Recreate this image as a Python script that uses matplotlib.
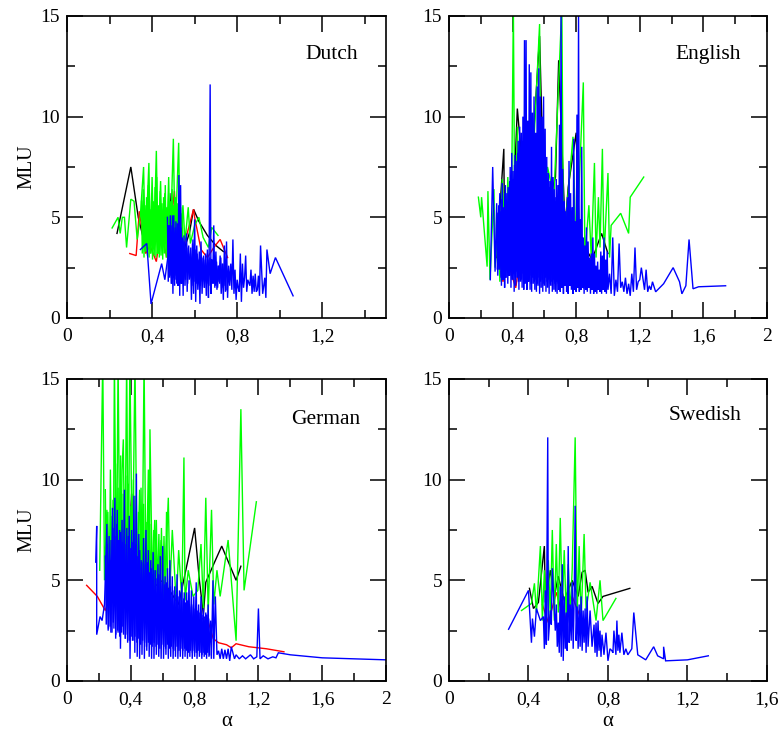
import matplotlib
matplotlib.use('Agg')
import matplotlib.pyplot as plt
from matplotlib.ticker import FixedLocator

plt.rcParams['font.family'] = ['Liberation Serif', 'DejaVu Serif']

# Dutch
dutch_black_x = [0.235, 0.30, 0.335, 0.36, 0.40, 0.42, 0.43, 0.46, 0.475, 0.49, 0.50, 0.52, 0.55, 0.575, 0.595, 0.62, 0.66, 0.70, 0.735]
dutch_black_y = [4.2, 7.5, 5.0, 3.9, 3.8, 6.0, 3.5, 5.9, 3.6, 6.2, 3.8, 5.0, 3.4, 4.2, 5.4, 4.8, 4.1, 3.6, 3.3]
dutch_red_x = [0.295, 0.325, 0.34, 0.36, 0.37, 0.39, 0.42, 0.44, 0.47, 0.49, 0.505, 0.52, 0.55, 0.595, 0.60, 0.63, 0.66, 0.69, 0.72, 0.755]
dutch_red_y = [3.2, 3.1, 5.3, 3.9, 3.2, 3.6, 2.8, 4.4, 3.0, 4.8, 6.3, 3.2, 3.6, 5.4, 5.0, 3.4, 3.0, 3.5, 3.9, 3.0]
dutch_green_x = [0.212, 0.24, 0.25, 0.26, 0.27, 0.28, 0.30, 0.315, 0.33, 0.345, 0.36, 0.368, 0.385, 0.392, 0.40, 0.408, 0.42, 0.428, 0.44, 0.447, 0.46, 0.468, 0.478, 0.485, 0.50, 0.508, 0.525, 0.532, 0.545, 0.555, 0.57, 0.58, 0.60, 0.62, 0.64, 0.665, 0.68, 0.71]
dutch_green_y = [4.47, 5.0, 4.2, 5.0, 5.0, 3.5, 5.9, 5.8, 3.9, 5.1, 7.5, 3.3, 7.7, 3.2, 7.0, 3.4, 8.3, 3.2, 6.8, 3.5, 6.2, 3.3, 7.0, 3.4, 8.9, 3.6, 8.7, 3.5, 5.6, 3.8, 5.5, 3.7, 4.6, 5.0, 4.0, 3.5, 4.5, 4.1]
dutch_green2_x = [0.35, 0.354, 0.358, 0.362, 0.366, 0.37, 0.374, 0.378, 0.382, 0.386,
                  0.39, 0.394, 0.398, 0.402, 0.406, 0.41, 0.414, 0.418, 0.422, 0.426,
                  0.43, 0.434, 0.438, 0.442, 0.446, 0.45, 0.454, 0.458, 0.462, 0.466,
                  0.47, 0.474, 0.478, 0.482, 0.486, 0.49, 0.494, 0.498, 0.502, 0.506,
                  0.51, 0.514, 0.518, 0.522, 0.526, 0.53, 0.534, 0.538, 0.542, 0.546]
dutch_green2_y = [5.8, 3.2, 6.4, 3.0, 5.6, 3.3, 6.0, 3.1, 6.6, 3.0,
                  5.4, 3.2, 6.2, 2.9, 5.8, 3.1, 6.5, 3.0, 7.0, 3.2,
                  5.6, 3.0, 6.3, 3.1, 5.7, 2.9, 6.0, 3.2, 6.6, 3.0,
                  5.5, 3.1, 6.2, 3.0, 5.8, 3.2, 6.4, 3.1, 5.6, 3.3,
                  6.0, 3.2, 5.7, 3.3, 5.9, 3.4, 5.5, 3.3, 5.2, 3.6]
dutch_blue_x = [0.345, 0.375, 0.395, 0.445, 0.46, 0.475, 0.478, 0.482, 0.486, 0.49, 0.494, 0.498, 0.502, 0.506, 0.51, 0.514, 0.518, 0.522, 0.526, 0.53, 0.534, 0.538, 0.542, 0.546, 0.55, 0.555, 0.56, 0.565, 0.57, 0.575, 0.58, 0.585, 0.59, 0.595, 0.60, 0.605, 0.61, 0.615, 0.62, 0.625, 0.63, 0.635, 0.64, 0.645, 0.65, 0.655, 0.66, 0.665, 0.668, 0.673, 0.677, 0.68, 0.685, 0.69, 0.695, 0.70, 0.705, 0.71, 0.715, 0.72, 0.725, 0.73, 0.735, 0.74, 0.745, 0.75, 0.755, 0.76, 0.765, 0.77, 0.775, 0.78, 0.785, 0.79, 0.795, 0.80, 0.805, 0.81, 0.815, 0.82, 0.825, 0.83, 0.835, 0.84, 0.845, 0.85, 0.86, 0.865, 0.87, 0.875, 0.88, 0.885, 0.89, 0.895, 0.90, 0.905, 0.91, 0.92, 0.93, 0.935, 0.94, 0.955, 0.98, 1.063]
dutch_blue_y = [3.4, 3.7, 0.7, 2.7, 1.9, 3.1, 4.6, 2.0, 5.1, 1.7, 4.0, 1.2, 5.1, 1.6, 4.5, 2.1, 4.7, 1.6, 7.1, 1.1, 6.6, 1.7, 4.0, 1.1, 4.1, 1.6, 4.0, 1.3, 3.5, 1.9, 3.2, 0.9, 3.7, 1.2, 4.9, 0.8, 3.6, 1.4, 2.9, 0.7, 3.8, 1.2, 3.0, 1.5, 2.9, 1.1, 3.4, 1.0, 2.6, 11.6, 1.2, 2.9, 1.7, 4.6, 1.5, 3.3, 1.4, 2.6, 1.8, 3.1, 1.2, 2.7, 0.9, 3.6, 1.3, 3.8, 1.0, 2.6, 1.6, 2.7, 1.4, 3.9, 1.2, 2.4, 0.9, 1.9, 1.5, 1.3, 3.2, 0.8, 2.7, 1.5, 2.0, 3.1, 1.3, 1.9, 1.6, 2.4, 1.2, 2.1, 1.3, 2.2, 1.3, 1.4, 2.1, 1.1, 3.6, 1.2, 2.0, 1.0, 3.4, 2.2, 3.0, 1.1]
dutch_blue2_x = [0.472, 0.476, 0.48, 0.484, 0.488, 0.492, 0.496, 0.50, 0.504, 0.508,
                 0.512, 0.516, 0.52, 0.524, 0.528, 0.532, 0.536, 0.54, 0.544, 0.548,
                 0.552, 0.557, 0.562, 0.567, 0.572, 0.577, 0.582, 0.587, 0.592, 0.597,
                 0.602, 0.607, 0.612, 0.617, 0.622, 0.627, 0.632, 0.637, 0.642, 0.647,
                 0.652, 0.657, 0.662, 0.667, 0.672, 0.678, 0.683, 0.688, 0.693, 0.698,
                 0.703, 0.708, 0.713, 0.718, 0.723, 0.728, 0.733, 0.738, 0.743, 0.748]
dutch_blue2_y = [5.0, 1.8, 4.4, 2.1, 4.6, 1.7, 5.1, 2.0, 4.2, 1.9,
                 4.8, 1.7, 4.0, 2.1, 4.3, 1.8, 4.5, 2.0, 3.9, 1.6,
                 3.8, 1.9, 4.2, 1.7, 3.6, 2.0, 3.5, 1.6, 3.9, 1.8,
                 3.4, 1.7, 3.2, 1.9, 3.3, 1.6, 3.0, 1.8, 3.1, 1.5,
                 3.2, 1.7, 2.9, 1.6, 3.0, 1.5, 2.9, 1.7, 3.1, 1.6,
                 2.8, 1.5, 2.6, 1.7, 3.0, 1.5, 2.7, 1.6, 2.9, 1.4]

# English
english_black_x = [0.30, 0.345, 0.35, 0.41, 0.43, 0.50, 0.52, 0.57, 0.60, 0.67, 0.69, 0.73, 0.75, 0.80, 0.82, 0.90, 0.96, 1.0]
english_black_y = [3.0, 8.4, 3.5, 6.5, 10.4, 4.0, 7.5, 14.0, 5.0, 7.0, 12.8, 4.5, 6.5, 9.2, 4.0, 2.9, 4.2, 3.2]
english_red_x = [0.325, 0.34, 0.365, 0.40, 0.42, 0.435, 0.45]
english_red_y = [2.3, 1.8, 3.0, 2.0, 1.5, 2.3, 1.9]
english_green_x = [0.185, 0.20, 0.205, 0.24, 0.245, 0.258, 0.283, 0.29, 0.31, 0.32, 0.335, 0.36, 0.37, 0.39, 0.405, 0.415, 0.43, 0.45, 0.47, 0.50, 0.53, 0.57, 0.58, 0.62, 0.66, 0.71, 0.72, 0.78, 0.80, 0.845, 0.855, 0.88, 0.895, 0.915, 0.925, 0.94, 0.95, 0.965, 0.975, 1.0, 1.01, 1.02, 1.08, 1.13, 1.14, 1.225]
english_green_y = [6.0, 5.0, 6.0, 2.55, 6.3, 1.9, 6.4, 2.5, 4.4, 1.8, 6.9, 2.4, 7.0, 2.5, 15.5, 3.0, 9.5, 3.5, 7.0, 4.0, 8.0, 14.6, 4.0, 7.5, 6.0, 15.5, 3.5, 9.0, 3.0, 11.7, 3.0, 5.6, 3.0, 7.7, 3.0, 6.0, 3.5, 8.4, 3.0, 7.2, 3.0, 4.6, 5.2, 4.2, 6.0, 7.0]
english_blue_x = [0.26, 0.275, 0.29, 0.30, 0.305, 0.31, 0.32, 0.33, 0.335, 0.34, 0.345, 0.35, 0.355, 0.36, 0.365, 0.37, 0.375, 0.38, 0.385, 0.39, 0.395, 0.40, 0.405, 0.41, 0.415, 0.42, 0.425, 0.43, 0.435, 0.44, 0.445, 0.45, 0.455, 0.46, 0.465, 0.47, 0.475, 0.48, 0.485, 0.49, 0.495, 0.50, 0.505, 0.51, 0.515, 0.52, 0.525, 0.53, 0.535, 0.54, 0.545, 0.55, 0.555, 0.56, 0.565, 0.57, 0.575, 0.58, 0.585, 0.59, 0.595, 0.60, 0.605, 0.61, 0.615, 0.62, 0.625, 0.63, 0.635, 0.64, 0.645, 0.65, 0.655, 0.66, 0.665, 0.67, 0.675, 0.68, 0.685, 0.69, 0.695, 0.70, 0.705, 0.71, 0.715, 0.72, 0.725, 0.73, 0.735, 0.74, 0.745, 0.75, 0.755, 0.76, 0.765, 0.77, 0.775, 0.78, 0.785, 0.79, 0.795, 0.80, 0.805, 0.81, 0.815, 0.82, 0.825, 0.83, 0.835, 0.84, 0.845, 0.85, 0.855, 0.86, 0.865, 0.87, 0.875, 0.88, 0.885, 0.89, 0.895, 0.90, 0.905, 0.91, 0.915, 0.92, 0.925, 0.93, 0.935, 0.94, 0.945, 0.95, 0.955, 0.96, 0.965, 0.97, 0.975, 0.98, 0.985, 0.99, 0.995, 1.0, 1.01, 1.02, 1.03, 1.04, 1.05, 1.06, 1.07, 1.08, 1.09, 1.10, 1.11, 1.12, 1.13, 1.14, 1.15, 1.16, 1.17, 1.18, 1.19, 1.20, 1.21, 1.23, 1.24, 1.25, 1.26, 1.27, 1.28, 1.30, 1.35, 1.41, 1.45, 1.465, 1.49, 1.51, 1.535, 1.57, 1.74]
english_blue_y = [1.9, 7.5, 2.3, 5.7, 2.4, 3.5, 6.2, 1.6, 6.7, 1.9, 5.2, 1.5, 6.6, 2.0, 6.2, 1.7, 5.2, 2.1, 7.5, 1.5, 8.2, 1.9, 6.9, 1.3, 8.1, 1.6, 7.2, 2.0, 8.8, 1.4, 9.5, 1.8, 9.2, 1.5, 10.0, 1.4, 13.8, 1.7, 13.8, 1.4, 9.8, 1.8, 12.6, 1.4, 12.2, 1.3, 10.2, 1.7, 11.0, 1.4, 9.2, 1.3, 11.5, 1.6, 12.4, 1.2, 11.0, 1.5, 10.0, 1.3, 11.0, 1.6, 9.4, 1.3, 8.0, 1.5, 7.2, 1.2, 6.8, 1.6, 8.5, 1.3, 7.0, 1.4, 5.8, 1.3, 6.9, 1.2, 6.6, 1.4, 9.6, 1.3, 15.5, 1.5, 7.4, 1.2, 5.8, 1.6, 4.6, 1.3, 6.0, 1.2, 7.8, 1.6, 6.2, 1.4, 5.5, 1.2, 8.9, 1.4, 4.8, 1.3, 10.1, 1.5, 15.0, 1.3, 4.9, 1.4, 8.5, 1.5, 4.0, 1.2, 3.6, 1.4, 4.5, 1.3, 3.8, 1.5, 3.0, 1.2, 3.2, 1.4, 4.0, 1.2, 3.2, 1.3, 2.6, 1.2, 2.8, 1.4, 2.4, 1.3, 3.3, 1.2, 3.1, 1.4, 4.0, 1.3, 2.9, 1.2, 3.3, 1.4, 2.2, 1.2, 4.0, 1.1, 1.9, 1.3, 3.7, 1.5, 1.8, 1.3, 2.0, 1.2, 1.7, 1.1, 2.2, 1.3, 3.5, 1.4, 1.8, 1.9, 2.5, 1.4, 2.4, 1.3, 1.6, 1.4, 1.8, 1.3, 1.7, 2.5, 1.8, 1.2, 1.6, 3.9, 1.45, 1.55, 1.6]
english_blue2_x = [0.302, 0.307, 0.312, 0.317, 0.322, 0.327, 0.332, 0.337, 0.342, 0.347,
                   0.352, 0.357, 0.362, 0.367, 0.372, 0.377, 0.382, 0.387, 0.392, 0.397,
                   0.402, 0.407, 0.412, 0.417, 0.422, 0.427, 0.432, 0.437, 0.442, 0.447,
                   0.452, 0.457, 0.462, 0.467, 0.472, 0.477, 0.482, 0.487, 0.492, 0.497,
                   0.502, 0.507, 0.512, 0.517, 0.522, 0.527, 0.532, 0.537, 0.542, 0.547,
                   0.552, 0.557, 0.562, 0.567, 0.572, 0.577, 0.582, 0.587, 0.592, 0.597,
                   0.602, 0.607, 0.612, 0.617, 0.622, 0.627, 0.632, 0.637, 0.642, 0.647,
                   0.652, 0.657, 0.662, 0.667, 0.672, 0.677, 0.682, 0.687, 0.692, 0.697,
                   0.702, 0.707, 0.712, 0.717, 0.722, 0.727, 0.732, 0.737, 0.742, 0.747,
                   0.752, 0.757, 0.762, 0.767, 0.772, 0.777, 0.782, 0.787, 0.792, 0.797,
                   0.802, 0.807, 0.812, 0.817, 0.822, 0.827, 0.832, 0.837, 0.842, 0.847]
english_blue2_y = [5.2, 2.1, 5.6, 2.4, 5.3, 2.0, 5.9, 2.3, 5.5, 2.2,
                   6.2, 2.0, 5.8, 2.4, 6.5, 2.1, 6.8, 2.3, 7.1, 1.9,
                   7.3, 2.2, 7.6, 2.0, 7.8, 2.3, 8.2, 1.8, 8.0, 2.1,
                   8.5, 1.9, 8.8, 2.2, 9.3, 1.8, 9.0, 2.0, 8.6, 1.9,
                   8.9, 2.1, 8.3, 1.7, 9.0, 2.0, 8.4, 1.8, 8.1, 1.9,
                   8.6, 1.7, 8.0, 2.0, 7.6, 1.8, 8.2, 1.9, 7.4, 1.7,
                   7.2, 2.0, 7.0, 1.8, 6.8, 1.9, 6.5, 1.7, 6.7, 1.8,
                   6.2, 1.9, 6.4, 1.7, 6.0, 1.8, 5.9, 1.7, 6.1, 1.9,
                   5.8, 1.7, 5.6, 1.8, 5.4, 1.7, 5.3, 1.9, 5.5, 1.6,
                   5.0, 1.8, 4.8, 1.7, 4.9, 1.6, 4.5, 1.7, 4.3, 1.6,
                   4.4, 1.8, 4.0, 1.6, 4.2, 1.7, 3.8, 1.6, 3.9, 1.5]

# German
german_black_x = [0.33, 0.38, 0.405, 0.42, 0.45, 0.50, 0.60, 0.70, 0.80, 0.83, 0.855, 0.87, 0.925, 0.97, 1.06, 1.09]
german_black_y = [4.0, 5.2, 9.3, 4.8, 6.0, 4.4, 5.0, 3.8, 7.6, 5.0, 3.3, 4.9, 5.9, 6.7, 5.0, 5.7]
german_red_x = [0.123, 0.19, 0.24, 0.28, 0.31, 0.32, 0.36, 0.42, 0.50, 0.60, 0.70, 0.80, 0.875, 0.917, 0.95, 1.0, 1.03, 1.06, 1.14, 1.25, 1.36]
german_red_y = [4.75, 4.2, 3.5, 4.5, 8.7, 3.0, 5.5, 3.9, 3.4, 3.6, 3.0, 2.9, 3.2, 2.1, 1.9, 1.8, 1.65, 1.85, 1.7, 1.6, 1.45]
german_green_x = [0.205, 0.224, 0.235, 0.25, 0.262, 0.275, 0.29, 0.297, 0.31, 0.32, 0.333, 0.345, 0.353, 0.362, 0.374, 0.384, 0.394, 0.41, 0.426, 0.44, 0.455, 0.47, 0.483, 0.495, 0.51, 0.515, 0.52, 0.535, 0.55, 0.57, 0.59, 0.61, 0.635, 0.645, 0.66, 0.685, 0.70, 0.72, 0.733, 0.74, 0.76, 0.79, 0.82, 0.84, 0.855, 0.87, 0.885, 0.906, 0.92, 0.94, 0.96, 1.01, 1.06, 1.09, 1.11, 1.187]
german_green_y = [5.5, 16.0, 5.0, 8.5, 3.8, 8.2, 4.5, 16.0, 4.3, 16.0, 4.0, 10.5, 12.0, 4.8, 16.0, 4.0, 16.0, 5.0, 16.0, 4.5, 9.5, 4.2, 16.0, 4.5, 10.5, 4.2, 12.5, 4.5, 8.0, 4.0, 7.0, 4.0, 9.1, 4.5, 7.5, 3.8, 6.5, 4.0, 11.1, 4.0, 5.5, 4.2, 4.5, 6.8, 3.6, 9.1, 3.4, 8.5, 3.8, 5.5, 4.2, 7.0, 2.0, 13.5, 4.5, 8.9]
german_green2_x = [0.24, 0.248, 0.256, 0.264, 0.272, 0.28, 0.288, 0.296, 0.304, 0.312,
                   0.32, 0.328, 0.336, 0.344, 0.352, 0.36, 0.368, 0.376, 0.384, 0.392,
                   0.40, 0.408, 0.416, 0.424, 0.432, 0.44, 0.448, 0.456, 0.464, 0.472,
                   0.48, 0.488, 0.496, 0.504, 0.512, 0.52, 0.528, 0.536, 0.544, 0.552,
                   0.56, 0.568, 0.576, 0.584, 0.592, 0.60, 0.608, 0.616, 0.624, 0.632]
german_green2_y = [9.5, 4.0, 8.4, 3.8, 10.5, 4.2, 9.0, 4.0, 10.8, 3.9,
                   9.6, 4.1, 11.2, 4.0, 9.3, 3.8, 10.2, 4.2, 9.8, 4.0,
                   8.7, 3.9, 10.0, 4.1, 9.2, 4.0, 8.4, 3.8, 9.6, 4.2,
                   8.8, 4.0, 7.9, 4.1, 9.0, 3.9, 7.8, 4.2, 7.5, 4.0,
                   8.0, 4.1, 7.3, 4.0, 7.6, 4.2, 7.2, 3.9, 8.4, 4.1]
german_blue_x = [0.18, 0.186, 0.186, 0.207, 0.22, 0.235, 0.25, 0.26, 0.27, 0.275, 0.285, 0.29, 0.30, 0.305, 0.315, 0.32, 0.33, 0.335, 0.345, 0.35, 0.36, 0.365, 0.375, 0.38, 0.39, 0.395, 0.405, 0.41, 0.42, 0.425, 0.435, 0.44, 0.45, 0.455, 0.465, 0.47, 0.48, 0.485, 0.495, 0.50, 0.51, 0.515, 0.525, 0.53, 0.54, 0.545, 0.555, 0.56, 0.57, 0.575, 0.585, 0.59, 0.60, 0.605, 0.615, 0.62, 0.63, 0.635, 0.645, 0.65, 0.66, 0.665, 0.675, 0.68, 0.69, 0.695, 0.705, 0.71, 0.72, 0.725, 0.735, 0.74, 0.75, 0.755, 0.765, 0.77, 0.78, 0.785, 0.795, 0.80, 0.81, 0.815, 0.825, 0.83, 0.84, 0.845, 0.855, 0.86, 0.87, 0.875, 0.885, 0.89, 0.90, 0.905, 0.915, 0.92, 0.93, 0.94, 0.95, 0.96, 0.97, 0.98, 0.99, 1.0, 1.01, 1.02, 1.03, 1.05, 1.06, 1.08, 1.10, 1.12, 1.15, 1.17, 1.19, 1.20, 1.21, 1.23, 1.26, 1.29, 1.31, 1.325, 1.40, 1.60, 1.80, 2.0]
german_blue_y = [5.9, 7.7, 2.3, 3.2, 3.0, 3.8, 7.8, 2.6, 6.0, 2.4, 8.6, 2.9, 9.1, 2.1, 8.5, 2.4, 7.5, 1.6, 8.0, 2.7, 9.5, 2.1, 7.6, 1.9, 8.2, 1.1, 7.5, 2.0, 9.2, 1.4, 10.3, 1.2, 7.3, 1.1, 6.0, 1.3, 7.1, 1.1, 7.5, 1.5, 6.5, 1.2, 6.0, 1.1, 6.4, 1.1, 5.5, 1.3, 5.8, 1.2, 6.2, 1.1, 6.7, 1.1, 5.2, 1.3, 5.6, 1.1, 6.0, 1.2, 5.2, 1.1, 4.7, 1.2, 5.3, 1.1, 4.5, 1.2, 4.9, 1.1, 4.4, 1.2, 4.4, 1.1, 5.0, 1.2, 4.5, 1.1, 4.2, 1.2, 4.9, 1.1, 3.8, 1.2, 4.2, 1.1, 3.6, 1.2, 3.4, 1.1, 3.8, 1.2, 3.0, 1.1, 5.0, 1.1, 4.2, 1.3, 1.5, 1.1, 1.6, 1.1, 1.55, 1.1, 1.6, 1.0, 1.7, 1.1, 1.3, 1.1, 1.25, 1.1, 1.3, 1.1, 1.2, 3.6, 1.1, 1.25, 1.1, 1.2, 1.15, 1.4, 1.3, 1.15, 1.1, 1.05]
german_blue2_x = [0.24, 0.246, 0.252, 0.258, 0.264, 0.27, 0.276, 0.282, 0.288, 0.294,
                  0.30, 0.306, 0.312, 0.318, 0.324, 0.33, 0.336, 0.342, 0.348, 0.354,
                  0.36, 0.366, 0.372, 0.378, 0.384, 0.39, 0.396, 0.402, 0.408, 0.414,
                  0.42, 0.426, 0.432, 0.438, 0.444, 0.45, 0.456, 0.462, 0.468, 0.474,
                  0.48, 0.486, 0.492, 0.498, 0.504, 0.51, 0.516, 0.522, 0.528, 0.534,
                  0.54, 0.546, 0.552, 0.558, 0.564, 0.57, 0.576, 0.582, 0.588, 0.594,
                  0.60, 0.606, 0.612, 0.618, 0.624, 0.63, 0.636, 0.642, 0.648, 0.654,
                  0.66, 0.666, 0.672, 0.678, 0.684, 0.69, 0.696, 0.702, 0.708, 0.714,
                  0.72, 0.726, 0.732, 0.738, 0.744, 0.75, 0.756, 0.762, 0.768, 0.774,
                  0.78, 0.786, 0.792, 0.798, 0.804, 0.81, 0.816, 0.822, 0.828, 0.834,
                  0.84, 0.846, 0.852, 0.858, 0.864, 0.87, 0.876, 0.882, 0.888, 0.894]
german_blue2_y = [6.2, 2.8, 6.8, 2.5, 7.2, 2.7, 7.0, 2.4, 7.6, 2.6,
                  7.2, 2.3, 7.8, 2.5, 7.0, 2.2, 7.4, 2.4, 6.9, 2.3,
                  7.5, 2.1, 6.8, 2.3, 7.2, 2.0, 6.6, 2.2, 6.9, 2.0,
                  6.4, 2.2, 6.8, 1.9, 6.2, 2.1, 6.5, 1.8, 5.9, 2.0,
                  6.0, 1.9, 5.8, 1.7, 5.9, 1.9, 5.4, 1.8, 5.6, 1.7,
                  5.3, 1.9, 5.5, 1.7, 5.1, 1.8, 5.3, 1.6, 4.9, 1.8,
                  5.0, 1.7, 4.8, 1.6, 4.9, 1.8, 4.6, 1.6, 4.7, 1.7,
                  4.4, 1.6, 4.5, 1.5, 4.3, 1.7, 4.2, 1.5, 4.4, 1.6,
                  4.0, 1.5, 4.1, 1.6, 3.9, 1.5, 4.0, 1.4, 3.8, 1.5,
                  3.7, 1.4, 3.8, 1.5, 3.6, 1.4, 3.5, 1.5, 3.4, 1.4,
                  3.5, 1.3, 3.3, 1.4, 3.2, 1.3, 3.3, 1.4, 3.1, 1.3]

# Swedish
swedish_black_x = [0.405, 0.425, 0.45, 0.48, 0.485, 0.51, 0.53, 0.55, 0.58, 0.62, 0.65, 0.67, 0.685, 0.70, 0.72, 0.75, 0.775, 0.91]
swedish_black_y = [4.6, 3.6, 3.9, 6.7, 3.9, 5.5, 4.2, 5.2, 4.0, 5.0, 4.2, 5.4, 5.5, 4.4, 4.7, 3.85, 4.2, 4.6]
swedish_red_x = [0.47, 0.50, 0.54, 0.58, 0.62, 0.66]
swedish_red_y = [3.8, 2.9, 4.4, 3.0, 4.2, 3.2]
swedish_green_x = [0.365, 0.415, 0.43, 0.44, 0.45, 0.46, 0.47, 0.48, 0.49, 0.50, 0.51, 0.52, 0.53, 0.54, 0.55, 0.56, 0.57, 0.58, 0.59, 0.60, 0.61, 0.62, 0.635, 0.645, 0.655, 0.665, 0.68, 0.69, 0.71, 0.74, 0.76, 0.775, 0.84]
swedish_green_y = [3.5, 3.85, 4.85, 3.4, 5.0, 6.7, 3.0, 5.5, 3.5, 6.0, 3.2, 7.5, 3.0, 6.8, 3.4, 8.1, 3.5, 6.5, 3.2, 5.8, 3.4, 5.5, 12.1, 3.2, 6.7, 3.0, 7.3, 3.5, 4.9, 3.0, 5.0, 3.0, 4.1]
swedish_blue_x = [0.30, 0.40, 0.415, 0.42, 0.43, 0.44, 0.46, 0.475, 0.48, 0.485, 0.49, 0.497, 0.50, 0.51, 0.515, 0.52, 0.53, 0.535, 0.54, 0.545, 0.55, 0.555, 0.56, 0.565, 0.57, 0.575, 0.58, 0.585, 0.59, 0.595, 0.60, 0.605, 0.61, 0.615, 0.62, 0.625, 0.63, 0.635, 0.64, 0.645, 0.65, 0.655, 0.66, 0.665, 0.67, 0.675, 0.68, 0.685, 0.69, 0.695, 0.70, 0.71, 0.72, 0.73, 0.735, 0.74, 0.745, 0.75, 0.755, 0.76, 0.765, 0.77, 0.78, 0.79, 0.80, 0.81, 0.82, 0.825, 0.83, 0.84, 0.845, 0.85, 0.855, 0.86, 0.87, 0.88, 0.89, 0.90, 0.92, 0.93, 0.95, 0.99, 1.03, 1.05, 1.08, 1.08, 1.09, 1.20, 1.305]
swedish_blue_y = [2.57, 4.5, 1.9, 3.1, 2.2, 3.6, 3.0, 3.2, 1.6, 4.5, 1.8, 12.1, 2.0, 3.5, 2.8, 5.6, 3.5, 2.5, 3.8, 1.7, 2.9, 1.4, 4.7, 1.2, 5.8, 1.0, 4.2, 1.6, 3.4, 1.5, 6.7, 1.9, 3.8, 2.0, 4.9, 1.6, 4.1, 8.7, 2.0, 3.7, 1.6, 3.8, 1.7, 4.2, 1.5, 3.5, 1.9, 3.6, 1.4, 4.2, 1.7, 3.5, 1.7, 2.8, 1.4, 2.9, 1.2, 3.0, 1.5, 2.5, 1.2, 2.3, 1.3, 2.4, 1.0, 1.6, 1.5, 1.4, 2.5, 1.3, 3.0, 1.5, 2.3, 1.4, 2.4, 1.3, 1.6, 1.3, 1.6, 3.4, 1.3, 1.05, 1.7, 1.25, 1.1, 1.7, 1.0, 1.05, 1.25]

black, red, green, blue = 'black', 'red', '#00ff00', '#0000ff'

panels = [
    ('Dutch', [0.0856, 0.5656, 0.4074, 0.4126], 1.5, [0, 0.4, 0.8, 1.2], ['0', '0,4', '0,8', '1,2'], (1.246, 13.1),
     [(dutch_black_x, dutch_black_y, black), (dutch_red_x, dutch_red_y, red), (dutch_green_x, dutch_green_y, green),
      (dutch_green2_x, dutch_green2_y, green), (dutch_blue_x, dutch_blue_y, blue), (dutch_blue2_x, dutch_blue2_y, blue)]),
    ('English', [0.5734, 0.5656, 0.4061, 0.4126], 2.0, [0, 0.4, 0.8, 1.2, 1.6, 2], ['0', '0,4', '0,8', '1,2', '1,6', '2'], (1.63, 13.1),
     [(english_black_x, english_black_y, black), (english_red_x, english_red_y, red), (english_green_x, english_green_y, green),
      (english_blue_x, english_blue_y, blue), (english_blue2_x, english_blue2_y, blue)]),
    ('German', [0.0856, 0.0697, 0.4074, 0.4126], 2.0, [0, 0.4, 0.8, 1.2, 1.6, 2], ['0', '0,4', '0,8', '1,2', '1,6', '2'], (1.62, 13.0),
     [(german_black_x, german_black_y, black), (german_red_x, german_red_y, red), (german_green_x, german_green_y, green),
      (german_green2_x, german_green2_y, green), (german_blue_x, german_blue_y, blue), (german_blue2_x, german_blue2_y, blue)]),
    ('Swedish', [0.5734, 0.0697, 0.4061, 0.4126], 1.6, [0, 0.4, 0.8, 1.2, 1.6], ['0', '0,4', '0,8', '1,2', '1,6'], (1.287, 13.17),
     [(swedish_black_x, swedish_black_y, black), (swedish_red_x, swedish_red_y, red), (swedish_green_x, swedish_green_y, green),
      (swedish_blue_x, swedish_blue_y, blue)]),
]

fig = plt.figure(figsize=(7.83, 7.32), dpi=100)

for i, (name, rect, xmax, xt, xl, pos, series) in enumerate(panels):
    ax = fig.add_axes(rect)
    for xs, ys, c in series:
        ax.plot(xs, ys, color=c, lw=1.0, solid_joinstyle='miter')
    ax.set_xlim(0, xmax)
    ax.set_ylim(0, 15)
    ax.set_xticks(xt)
    ax.set_xticklabels(xl)
    ax.set_yticks([0, 5, 10, 15])
    ax.set_yticklabels(['0', '5', '10', '15'])
    ax.xaxis.set_minor_locator(FixedLocator([v / 10 + 0.2 for v in range(0, int(xmax * 10), 4)]))
    ax.yaxis.set_minor_locator(FixedLocator([2.5, 7.5, 12.5]))
    ax.tick_params(which='major', direction='in', length=11.5, width=1.1, top=True, right=True, labelsize=14, pad=5)
    ax.tick_params(which='minor', direction='in', length=5.8, width=1.1, top=True, right=True)
    ax.tick_params(axis='x', which='major', pad=7)
    for s in ax.spines.values():
        s.set_linewidth(1.2)
    ax.text(pos[0], pos[1], name, fontsize=15.5, ha='center', va='center')
    if i % 2 == 0:
        ax.set_ylabel('MLU', fontsize=14.5, labelpad=3)
    if i >= 2:
        ax.set_xlabel('α', fontsize=15, labelpad=3)

fig.savefig('out.png', dpi=100)
